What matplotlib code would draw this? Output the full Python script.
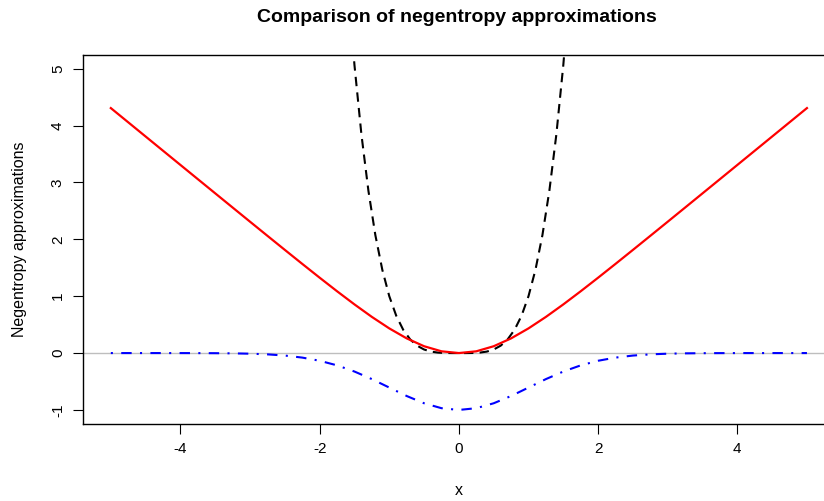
import matplotlib
matplotlib.use("Agg")
import matplotlib.pyplot as plt
import numpy as np

plt.rcParams['font.family'] = ['Liberation Sans', 'DejaVu Sans']
plt.rcParams['axes.unicode_minus'] = False

# values
x_vals = [-5.0, -4.75, -4.5, -4.25, -4.0, -3.75, -3.5, -3.25, -3.0, -2.75, -2.5,
          -2.25, -2.0, -1.75, -1.5, -1.25, -1.0, -0.75, -0.5, -0.25, 0.0,
          0.25, 0.5, 0.75, 1.0, 1.25, 1.5, 1.75, 2.0, 2.25, 2.5,
          2.75, 3.0, 3.25, 3.5, 3.75, 4.0, 4.25, 4.5, 4.75, 5.0]
logcosh_half = [0.0, 0.0309, 0.1201, 0.2583, 0.4338, 0.6357, 0.8555, 1.0866, 1.3250,
                1.5679, 1.8136, 2.0610, 2.3093, 2.5584, 2.8078, 3.0574, 3.3072,
                3.5571, 3.8070, 4.0570, 4.3069]
gauss_half = [-1.0, -0.9692, -0.8825, -0.7548, -0.6065, -0.4578, -0.3247, -0.2163,
              -0.1353, -0.0796, -0.0439, -0.0228, -0.0111, -0.0051, -0.0022,
              -0.0009, -0.0003, -0.0001, 0.0, 0.0, 0.0]
red_y = logcosh_half[::-1] + logcosh_half[1:]
blue_y = gauss_half[::-1] + gauss_half[1:]

kurt_x = [-1.6, -1.5, -1.4, -1.3, -1.2, -1.1, -1.0, -0.9, -0.8, -0.7, -0.6, -0.5,
          -0.4, -0.3, -0.2, -0.1, 0.0, 0.1, 0.2, 0.3, 0.4, 0.5, 0.6, 0.7, 0.8,
          0.9, 1.0, 1.1, 1.2, 1.3, 1.4, 1.5, 1.6]
kurt_half = [0.0, 0.0001, 0.0016, 0.0081, 0.0256, 0.0625, 0.1296, 0.2401, 0.4096,
             0.6561, 1.0, 1.4641, 2.0736, 2.8561, 3.8416, 5.0625, 6.5536]
kurt_y = kurt_half[::-1] + kurt_half[1:]

x_ticks = [-4, -2, 0, 2, 4]
y_ticks = [-1, 0, 1, 2, 3, 4, 5]

fig = plt.figure(figsize=(8.24, 5.01), dpi=100)
ax = fig.add_axes([0.1007, 0.1545, 0.9124, 0.7357])

ax.axhline(0, color="#bebebe", lw=1.0, zorder=1)
ax.plot(x_vals, red_y, color="red", lw=1.6, zorder=3)
ax.plot(kurt_x, kurt_y, color="black", lw=1.5, linestyle=(0, (4.5, 3)), zorder=2)
ax.plot(x_vals, blue_y, color="blue", lw=1.5, linestyle=(0, (1, 4, 5, 4)), zorder=2)

ax.set_xlim(-5.4, 5.4)
ax.set_ylim(-1.24, 5.24)
ax.set_xticks(x_ticks)
ax.set_yticks(y_ticks)
ax.set_yticklabels([str(v) for v in y_ticks], rotation=90, va="center")
ax.tick_params(direction="out", length=7, width=0.8, labelsize=11, pad=6)
for s in ax.spines.values():
    s.set_linewidth(1.0)

ax.set_xlabel("x", fontsize=11.5, labelpad=20)
ax.set_ylabel("Negentropy approximations", fontsize=11.5, labelpad=17)
fig.text(0.554, 0.965, "Comparison of negentropy approximations",
         ha="center", va="center", fontsize=14, fontweight="bold")

fig.savefig("out.png", dpi=100)
